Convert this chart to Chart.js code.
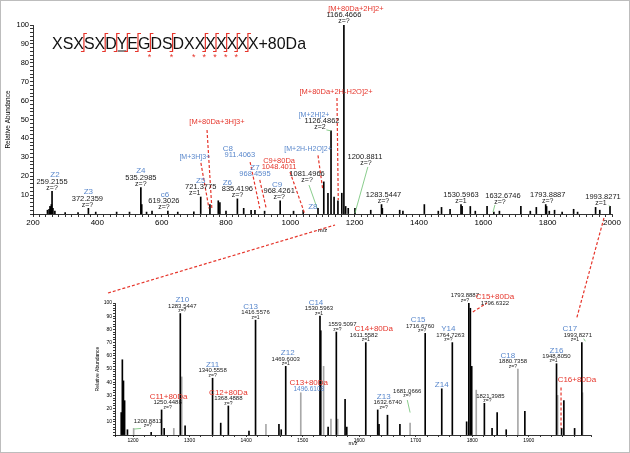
<!DOCTYPE html>
<html>
<head>
<meta charset="utf-8">
<script src="https://cdn.jsdelivr.net/npm/chart.js@4.4.1/dist/chart.umd.min.js"></script>
<style>
  html, body { margin: 0; padding: 0; background: #fff; }
  #wrap { position: relative; width: 630px; height: 453px; }
  #wrap canvas { position: absolute; left: 0; top: 0; }
  #frame { position: absolute; left: 0; top: 0; width: 628px; height: 451px; border: 1px solid #bdbdbd; pointer-events: none; }
</style>
</head>
<body>
<div id="wrap">
  <canvas id="fullScan" width="630" height="453"></canvas>
  <canvas id="zoomScan" width="630" height="453"></canvas>
  <div id="frame"></div>
</div>
<script>
// full scan spectrum (m/z 200-2000)
const topMz = [245, 250, 253, 255, 257, 259.2, 262, 268, 300, 340, 372.2, 395, 460, 500, 535.3, 538, 553, 570, 619.3, 650, 700,
  721.4, 750, 776, 781, 800, 835.4, 855, 878, 890, 920, 968.4, 1010, 1040, 1086, 1104, 1117, 1126.5, 1136, 1148, 1160, 1166.5,
  1172, 1180, 1200.9, 1250, 1283.5, 1286, 1340, 1350, 1416.6, 1460, 1470, 1496.6, 1530.6, 1534, 1559.5, 1575, 1611.6, 1632.7,
  1650, 1716.7, 1746, 1764.7, 1793.9, 1796.6, 1805, 1821.4, 1845, 1880.7, 1893, 1949, 1962, 1993.8];
const topAbund = [2, 2.5, 4, 3.5, 5, 12, 3, 1.5, 0.8, 0.8, 3, 1, 1, 1, 14, 5, 1, 1.5, 1.5, 1, 1.2,
  9, 5, 7, 6, 1.5, 8, 3, 2, 2, 1.5, 7, 1.5, 2, 3, 17, 11, 44, 9, 7, 11, 100,
  4, 3, 3, 2, 5, 3, 2, 1.5, 5, 1.5, 3.5, 2.5, 5, 4, 4, 1.5, 4, 1,
  1.5, 4, 1.5, 3.5, 5, 4, 1.5, 2, 1, 2.5, 1, 3.5, 2, 4];

// zoomed spectrum (m/z 1170-2000)
const zoomMz = [1179, 1181, 1183, 1185, 1190, 1232, 1250.4, 1255, 1283.5, 1292, 1340.6, 1355, 1368.5, 1405, 1416.6,
  1458, 1462, 1470, 1530.6, 1532, 1545, 1559.5, 1575, 1578, 1611.6, 1632.7, 1635, 1650, 1672, 1716.7,
  1746, 1764.7, 1790, 1793.9, 1796.6, 1799, 1821.4, 1835, 1844, 1860, 1893, 1949, 1958, 1962, 1981, 1993.8];
const zoomAbund = [17, 57, 41, 26, 4, 2, 19, 5, 92, 7, 43, 9, 22, 3, 87,
  8, 4, 52, 90, 79, 6, 78, 27, 6, 70, 19, 8, 15, 8, 77,
  35, 70, 10, 100, 96, 52, 24, 5, 17, 4, 18, 54, 5, 26, 5, 70];
const zoomGrayMz = [1201, 1272, 1286, 1435, 1496.6, 1537, 1550, 1562, 1690, 1807, 1880.7, 1951, 1995];
const zoomGrayAbund = [5, 5, 44, 8, 32, 52, 12, 12, 9, 34, 50, 30, 32];

const sequence = 'XSXSXDYEGDSDXXXXXXX+80Da';
const cleaveSites = [3, 5, 6, 7, 8, 9, 11, 14, 15, 16, 17, 18];
const phosphoSites = [9, 11, 13, 14, 15, 16, 17];

const BLUE = '#5a88cc';
const RED = '#e6352b';
const GREEN = '#6cc070';
const INK = '#1a1a1a';
const FONT = "'Liberation Sans', Arial, sans-serif";

// labels sitting on a peak: [m/z, [[text, kind, dx], ...]]
const topPeakLabels = [
  [259.2, [['Z2', 'ion', 3], ['259.2155'], ['z=?', 'z']]],
  [372.2, [['Z3', 'ion'], ['372.2359', 'num', -1], ['z=?', 'z', -1]]],
  [535.3, [['Z4', 'ion'], ['535.2985'], ['z=?', 'z']]],
  [619.3, [['c6', 'ion', -3], ['619.3026', 'num', -4], ['z=?', 'z', -4]]],
  [721.4, [['Z5', 'ion'], ['721.3775'], ['z=1', 'z', -6]]],
  [835.4, [['Z6', 'ion', -10], ['835.4196'], ['z=?', 'z']]],
  [968.4, [['C9', 'ion', -3], ['968.4261', 'num', -1], ['z=?', 'z', -1]]],
  [1126.5, [['[M+2H]2+', 'ionS', -17], ['1126.4862', 'num', -9], ['z=2', 'z', -11]]],
  [1166.5, [['[M+80Da+2H]2+', 'red', 12], ['1166.4666'], ['z=?', 'z']]],
  [1283.5, [['1283.5447', 'num', 2], ['z=?', 'z', 2]]],
  [1530.6, [['1530.5963'], ['z=1', 'z']]],
  [1793.9, [['1793.8887', 'num', 2], ['z=?', 'z', 2]]],
  [1993.8, [['1993.8271', 'num', -7], ['z=1', 'z', -9]]]
];

// free labels with leader lines: at = [m/z, abundance] of the lowest text line
const topCallouts = [
  { at: [772, 48.7], lines: [['[M+80Da+3H]3+', 'red']], lead: [[741, 44.4], [756, 3]], color: RED, dash: true },
  { at: [703, 30.2], lines: [['[M+3H]3+', 'ionS']], lead: [[722, 27], [747, 3]], color: RED, dash: true },
  { at: [843, 31], lines: [['C8', 'ion', -12], ['911.4063', 'bnum']], lead: [[875, 27.5], [905, 3]], color: RED, dash: true },
  { at: [890, 21.2], lines: [['Z7', 'ion'], ['968.4595', 'bnum']], lead: [[905, 18], [925, 3]], color: RED, dash: true },
  { at: [965, 24.9], lines: [['C9+80Da', 'red'], ['1048.4011', 'rnum']], lead: [[999, 22.2], [1045, 0]], color: RED, dash: true },
  { at: [1055, 34.4], lines: [['[M+2H-H2O]2+', 'ionS']], lead: [[1086, 31], [1101, 12.7]], color: RED, dash: true },
  { at: [1142, 64.5], lines: [['[M+80Da+2H-H2O]2+', 'red']], lead: [[1145, 61.4], [1149, 7.4]], color: RED, dash: true },
  { at: [1052, 18], lines: [['1081.4966'], ['z=?', 'z']], lead: [[1058, 15.3], [1083, 3.2]], color: GREEN },
  { at: [1070, 4], lines: [['Z8', 'ion']] },
  { at: [1232, 27], lines: [['1200.8811'], ['z=?', 'z', 1]], lead: [[1241, 24.9], [1201, 0.5]], color: GREEN },
  { at: [1661, 6.3], lines: [['1632.6746'], ['z=?', 'z', -3]], lead: [[1636, 4.8], [1630, 1]], color: GREEN },
  { lead: [[1112, 44.5], [1126, 44]], color: GREEN },
  { lead: [[1990, 4.5], [1993.8, 4]], color: GREEN }
];

const zoomPeakLabels = [
  [1283.5, [['Z10', 'ion', 2], ['1283.5447', 'num', 2], ['z=?', 'z', 2]]],
  [1340.6, [['Z11', 'ion'], ['1340.5558'], ['z=?', 'z']]],
  [1250.4, [['C11+80Da', 'red', 7], ['1250.4488', 'num', 6], ['z=?', 'z', 6]]],
  [1368.5, [['C12+80Da', 'red'], ['1368.4888'], ['z=?', 'z']]],
  [1416.6, [['C13', 'ion', -5], ['1416.5576'], ['z=1', 'z']]],
  [1470, [['Z12', 'ion', 2], ['1469.6003'], ['z=1', 'z']]],
  [1496.6, [['C13+80Da', 'red', 8], ['1496.6103', 'bnum', 8]]],
  [1530.6, [['C14', 'ion', -4], ['1530.5963', 'num', -1], ['z=1', 'z', -1]]],
  [1559.5, [['1559.5097', 'num', 6], ['z=?', 'z', 1]]],
  [1611.6, [['C14+80Da', 'red', 8], ['1611.5582', 'num', -2], ['z=1', 'z']]],
  [1632.7, [['Z13', 'ion', 6], ['1632.6740', 'num', 10], ['z=?', 'z', 6]]],
  [1716.7, [['C15', 'ion', -7], ['1716.6760', 'num', -5], ['z=?', 'z', -3]]],
  [1746, [['Z14', 'ion']]],
  [1764.7, [['Y14', 'ion', -4], ['1764.7263', 'num', -2], ['z=?', 'z', -4]]],
  [1793.9, [['1793.8887', 'num', -4], ['z=?', 'z', -4]]],
  [1821.4, [['1821.3985', 'num', 6], ['z=?', 'z', 3]]],
  [1880.7, [['C18', 'ion', -10], ['1880.7358', 'num', -5], ['z=?', 'z', -5]]],
  [1949, [['Z16', 'ion'], ['1948.8050'], ['z=1', 'z', -3]]],
  [1993.8, [['C17', 'ion', -12], ['1993.8271', 'num', -4], ['z=1', 'z', -7]]]
];

const zoomCallouts = [
  { at: [1226, 6.8], lines: [['1200.8811'], ['z=?', 'z']], lead: [[1214, 5], [1202, 4.5]], color: GREEN },
  { at: [1685, 29.5], lines: [['1681.0666'], ['z=?', 'z']], lead: [[1685, 26.5], [1690, 17]], color: GREEN },
  { at: [1840, 100], lines: [['C15+80Da', 'red'], ['1796.6322']], lead: [[1801, 93.2], [1826, 100]], color: RED, dash: true },
  { at: [1985, 41.7], lines: [['C16+80Da', 'red']], lead: [[1957, 36], [1957, 5]], color: RED, dash: true },
  { lead: [[1997, 73], [2000, 71]], color: GREEN }
];

const kindColor = { ion: BLUE, ionS: BLUE, red: RED, num: INK, z: INK, bnum: BLUE, rnum: RED };

function pairs(xs, ys) {
  return xs.map((x, i) => ({ x: x, y: ys[i] }));
}

function peakTop(mz, sets) {
  for (const [xs, ys] of sets) {
    const i = xs.indexOf(mz);
    if (i >= 0) return ys[i];
  }
  return 0;
}

function drawLead(ctx, pts, color, dash) {
  ctx.save();
  ctx.strokeStyle = color;
  ctx.lineWidth = dash ? 1.2 : 0.8;
  ctx.setLineDash(dash ? [3, 2] : []);
  ctx.beginPath();
  ctx.moveTo(pts[0][0], pts[0][1]);
  for (let i = 1; i < pts.length; i++) ctx.lineTo(pts[i][0], pts[i][1]);
  ctx.stroke();
  ctx.restore();
}

// stack text lines upward from the bottom one, centred at (x, y)
function stack(ctx, x, y, lines, size) {
  let cy = y;
  for (let i = lines.length - 1; i >= 0; i--) {
    const kind = lines[i][1] || 'num';
    const dx = lines[i][2] || 0;
    if (i < lines.length - 1) {
      const below = lines[i + 1][1] || 'num';
      cy -= (size[below] + size[kind]) / 2 * 0.85;
    }
    ctx.font = size[kind] + 'px ' + FONT;
    ctx.fillStyle = kindColor[kind];
    ctx.fillText(lines[i][0], x + dx, cy);
  }
}

function notesPlugin(id, cfg) {
  return {
    id: id,
    afterDraw(chart) {
      const ctx = chart.ctx;
      const px = m => chart.scales.x.getPixelForValue(m);
      const py = v => chart.scales.y.getPixelForValue(v);
      ctx.save();
      ctx.textAlign = 'center';
      ctx.textBaseline = 'middle';
      cfg.callouts.forEach(c => {
        if (c.lead) drawLead(ctx, c.lead.map(p => [px(p[0]), py(p[1])]), c.color, c.dash);
      });
      cfg.peakLabels.forEach(([mz, lines]) => {
        const low = lines[lines.length - 1][1] || 'num';
        const y = py(peakTop(mz, cfg.peaks)) - (cfg.size[low] * 0.45 + 0.5);
        stack(ctx, px(mz), y, lines, cfg.size);
      });
      cfg.callouts.forEach(c => {
        if (c.lines) stack(ctx, px(c.at[0]), py(c.at[1]), c.lines, cfg.size);
      });
      if (cfg.extra) cfg.extra(chart, ctx);
      ctx.restore();
    }
  };
}

function drawSequence(chart, ctx) {
  const left = 52, base = 48.5, width = 254;
  ctx.font = '17px ' + FONT;
  ctx.textAlign = 'left';
  ctx.textBaseline = 'alphabetic';
  const k = Math.min(1, width / ctx.measureText(sequence).width);
  const edges = [];
  for (let i = 0; i <= sequence.length; i++) {
    edges.push(left + ctx.measureText(sequence.slice(0, i)).width * k);
  }
  ctx.fillStyle = '#111';
  ctx.fillText(sequence, left, base, width);
  // underline the modified Y
  ctx.strokeStyle = '#111';
  ctx.lineWidth = 1;
  ctx.beginPath();
  ctx.moveTo(edges[6] + 1, base + 2.5);
  ctx.lineTo(edges[7] - 1, base + 2.5);
  ctx.stroke();
  // fragment markers
  ctx.strokeStyle = RED;
  ctx.lineWidth = 1.2;
  cleaveSites.forEach(i => {
    const x = edges[i];
    ctx.beginPath();
    ctx.moveTo(x + 3, base - 15);
    ctx.lineTo(x, base - 15);
    ctx.lineTo(x, base + 3);
    ctx.lineTo(x - 3, base + 3);
    ctx.stroke();
  });
  ctx.fillStyle = RED;
  ctx.font = '9px ' + FONT;
  ctx.textAlign = 'center';
  phosphoSites.forEach(i => ctx.fillText('*', edges[i] - 1, base + 11));
}

function axisTicks(size, step, every, hideZero) {
  return {
    stepSize: step,
    autoSkip: false,
    maxRotation: 0,
    padding: 1,
    color: '#000',
    font: { size: size, family: FONT },
    callback: v => {
      const r = Math.round(v);
      if (Math.abs(v - r) > 1e-6 || r % every !== 0) return '';
      if (hideZero && r === 0) return '';
      return String(r);
    }
  };
}

const axisGrid = { drawOnChartArea: false, offset: false, tickLength: 3, color: '#000', lineWidth: 0.8 };

const topChart = new Chart(document.getElementById('fullScan'), {
  type: 'bar',
  data: {
    datasets: [{
      data: pairs(topMz, topAbund),
      backgroundColor: '#000',
      barThickness: 1,
      grouped: false
    }]
  },
  options: {
    responsive: false,
    animation: false,
    layout: { padding: { left: 0, top: 25, right: 18, bottom: 219 } },
    plugins: { legend: { display: false }, tooltip: { enabled: false } },
    scales: {
      x: {
        type: 'linear', min: 200, max: 2000, offset: false,
        grid: axisGrid,
        border: { color: '#000', width: 0.8 },
        ticks: axisTicks(8, 20, 200, false),
        title: { display: true, text: 'm/z', color: '#000', font: { size: 6, family: FONT }, padding: 0 },
        afterFit: s => { s.height = 20; }
      },
      y: {
        min: 0, max: 100,
        grid: axisGrid,
        border: { color: '#000', width: 0.8 },
        ticks: axisTicks(7.5, 2, 10, true),
        title: { display: true, text: 'Relative Abundance', color: '#000', font: { size: 6.5, family: FONT }, padding: { top: 4, bottom: 0 } },
        afterFit: s => { s.width = 33; }
      }
    }
  },
  plugins: [notesPlugin('fullNotes', {
    peaks: [[topMz, topAbund]],
    peakLabels: topPeakLabels,
    callouts: topCallouts,
    size: { ion: 8, ionS: 7, red: 7.5, num: 7.5, z: 7, bnum: 7.5, rnum: 7.5 },
    extra: drawSequence
  })]
});

function drawConnectors(chart, ctx) {
  const tx = topChart.scales.x, ty = topChart.scales.y;
  const bx = chart.scales.x, by = chart.scales.y;
  drawLead(ctx, [[bx.left - 7, by.top - 10], [tx.getPixelForValue(1139), ty.getPixelForValue(0) + 11]], RED, true);
  drawLead(ctx, [[tx.getPixelForValue(1975), ty.getPixelForValue(0) + 4], [bx.getPixelForValue(1985), by.getPixelForValue(89)]], RED, true);
}

new Chart(document.getElementById('zoomScan'), {
  type: 'bar',
  data: {
    datasets: [{
      data: pairs(zoomMz, zoomAbund),
      backgroundColor: '#000',
      barThickness: 1,
      grouped: false,
      order: 1
    }, {
      data: pairs(zoomGrayMz, zoomGrayAbund),
      backgroundColor: '#a8a8a8',
      barThickness: 1,
      grouped: false,
      order: 2
    }]
  },
  options: {
    responsive: false,
    animation: false,
    layout: { padding: { left: 92, top: 303, right: 39, bottom: 0 } },
    plugins: { legend: { display: false }, tooltip: { enabled: false } },
    scales: {
      x: {
        type: 'linear', min: 1168, max: 2010, offset: false,
        grid: Object.assign({}, axisGrid, { tickLength: 2 }),
        border: { color: '#000', width: 0.8 },
        ticks: axisTicks(5, 20, 100, false),
        title: { display: true, text: 'm/z', color: '#000', font: { size: 5.5, family: FONT }, padding: { top: 0, bottom: 6 } },
        afterFit: s => { s.height = 18; }
      },
      y: {
        min: 0, max: 100,
        grid: Object.assign({}, axisGrid, { tickLength: 2 }),
        border: { color: '#000', width: 0.8 },
        ticks: axisTicks(5, 2, 10, true),
        title: { display: true, text: 'Relative Abundance', color: '#000', font: { size: 5, family: FONT }, padding: { top: 3, bottom: 0 } },
        afterFit: s => { s.width = 23; }
      }
    }
  },
  plugins: [notesPlugin('zoomNotes', {
    peaks: [[zoomMz, zoomAbund], [zoomGrayMz, zoomGrayAbund]],
    peakLabels: zoomPeakLabels,
    callouts: zoomCallouts,
    size: { ion: 8, ionS: 7, red: 8, num: 6, z: 5, bnum: 6.5, rnum: 6.5 },
    extra: drawConnectors
  })]
});
</script>
</body>
</html>
